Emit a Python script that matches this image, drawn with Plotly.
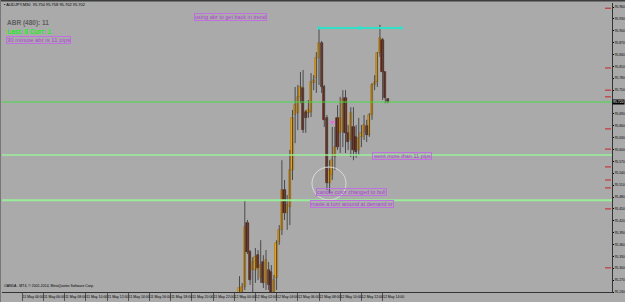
import plotly.graph_objects as go

# ---------------- data ----------------
opens  = [95.232, 95.237, 95.253, 95.414, 95.341, 95.296, 95.296, 95.333, 95.275, 95.316,
          95.263, 95.296, 95.291, 95.227, 95.275, 95.366, 95.397, 95.498, 95.440, 95.455,
          95.548, 95.687, 95.692, 95.733, 95.755, 95.695, 95.692, 95.695, 95.768, 95.781,
          95.831, 95.869, 95.758, 95.680, 95.515, 95.536, 95.581, 95.680, 95.642, 95.644,
          95.730, 95.642, 95.624, 95.657, 95.632, 95.599, 95.632, 95.644, 95.659, 95.637,
          95.687, 95.763, 95.771, 95.844, 95.877, 95.796, 95.728]
highs  = [95.280, 95.263, 95.472, 95.422, 95.346, 95.328, 95.351, 95.346, 95.371, 95.333,
          95.346, 95.316, 95.308, 95.283, 95.371, 95.409, 95.573, 95.523, 95.485, 95.599,
          95.700, 95.758, 95.763, 95.796, 95.801, 95.700, 95.725, 95.793, 95.788, 95.846,
          95.907, 95.874, 95.763, 95.687, 95.573, 95.657, 95.657, 95.712, 95.733, 95.750,
          95.750, 95.662, 95.707, 95.707, 95.662, 95.680, 95.662, 95.687, 95.675, 95.692,
          95.768, 95.788, 95.846, 95.915, 95.882, 95.796, 95.730]
lows   = [95.227, 95.227, 95.245, 95.336, 95.258, 95.227, 95.263, 95.270, 95.263, 95.250,
          95.245, 95.245, 95.227, 95.222, 95.245, 95.359, 95.384, 95.422, 95.397, 95.409,
          95.523, 95.616, 95.649, 95.717, 95.642, 95.642, 95.680, 95.682, 95.750, 95.743,
          95.763, 95.743, 95.657, 95.498, 95.490, 95.523, 95.548, 95.599, 95.591, 95.606,
          95.591, 95.599, 95.581, 95.573, 95.579, 95.586, 95.606, 95.624, 95.619, 95.632,
          95.675, 95.750, 95.758, 95.834, 95.725, 95.717, 95.717]
closes = [95.250, 95.253, 95.404, 95.341, 95.270, 95.316, 95.328, 95.301, 95.308, 95.263,
          95.321, 95.258, 95.237, 95.270, 95.364, 95.397, 95.498, 95.440, 95.460, 95.548,
          95.680, 95.712, 95.733, 95.758, 95.649, 95.680, 95.700, 95.771, 95.776, 95.831,
          95.869, 95.758, 95.675, 95.515, 95.548, 95.573, 95.606, 95.606, 95.680, 95.728,
          95.642, 95.619, 95.692, 95.599, 95.594, 95.629, 95.642, 95.662, 95.637, 95.687,
          95.763, 95.771, 95.844, 95.882, 95.796, 95.730, 95.720]
first_bar = 90  # bar index of first visible candle

time_labels = ["11 May 2014", "11 May 04:00", "11 May 06:00", "11 May 08:00", "11 May 10:00",
               "11 May 12:00", "11 May 14:00", "11 May 16:00", "11 May 18:00", "11 May 20:00",
               "11 May 22:00", "12 May 00:00", "12 May 02:00", "12 May 04:00", "12 May 06:00",
               "12 May 08:00", "12 May 10:00", "12 May 12:00", "12 May 14:00"]
bars_per_label = 8

price_ticks = [95.960, 95.930, 95.900, 95.870, 95.840, 95.810, 95.780, 95.750, 95.720,
               95.690, 95.660, 95.630, 95.600, 95.570, 95.540, 95.510, 95.480, 95.450,
               95.420, 95.390, 95.360, 95.330, 95.300, 95.270, 95.240]

sr_levels = [95.586, 95.472]
trend_bars = [120, 151]
trend_prices = [95.907, 95.907]
arrow_bar = [125]
arrow_price = [95.669]
red_marks = [95.957, 95.806, 95.750, 95.733, 95.652, 95.601, 95.556, 95.523, 95.503, 95.450, 95.301]

title_text = "AUDJPY,M30  95.750 95.758 95.702 95.702"
copyright_text = "OANDA - MT4, © 2001-2014, MetaQuotes Software Corp."

# ---------------- figure ----------------
W, H = 625, 302
ML, MR, MT, MB = 2, 13, 3, 10
PW, PH = W - ML - MR, H - MT - MB
BG = "#aaaaaa"

def xp(px):
    return (px - ML) / PW

def yp(py):
    return (H - MB - py) / PH

bars = [first_bar + i for i in range(len(opens))]
wx, wy = [], []
for b, h, l in zip(bars, highs, lows):
    wx += [b, b, None]
    wy += [h, l, None]

fig = go.Figure()
fig.add_trace(go.Scatter(x=wx, y=wy, mode="lines", line=dict(color="#4a4a4a", width=1),
                         hoverinfo="skip", showlegend=False))

bull = [i for i in range(len(opens)) if closes[i] >= opens[i]]
bear = [i for i in range(len(opens)) if closes[i] < opens[i]]
fig.add_trace(go.Bar(x=[bars[i] for i in bull], y=[max(closes[i] - opens[i], 0.004) for i in bull],
                     base=[opens[i] for i in bull], width=0.85,
                     marker=dict(color="#f0a810", line=dict(color="#a86a08", width=0.6)),
                     showlegend=False))
fig.add_trace(go.Bar(x=[bars[i] for i in bear], y=[max(opens[i] - closes[i], 0.004) for i in bear],
                     base=[closes[i] for i in bear], width=0.85,
                     marker=dict(color="#6e2410", line=dict(color="#4a1808", width=0.6)),
                     showlegend=False))

# trend line (cyan) with handles
fig.add_trace(go.Scatter(x=trend_bars, y=trend_prices, mode="lines", line=dict(color="#30e0c8", width=2),
                         showlegend=False))
fig.add_trace(go.Scatter(x=[trend_bars[0], (trend_bars[0] + trend_bars[1]) / 2, trend_bars[1]],
                         y=[trend_prices[0], trend_prices[0], trend_prices[1]], mode="markers",
                         marker=dict(symbol="square", size=3, color="#30e0c8"), showlegend=False))
fig.add_trace(go.Scatter(x=arrow_bar, y=arrow_price, mode="markers",
                         marker=dict(symbol="triangle-down", size=5, color="#e070e0"), showlegend=False))

shapes = []
# bid line + SR lines
shapes.append(dict(type="line", xref="paper", yref="y", x0=0, x1=1, y0=closes[-1], y1=closes[-1],
                   line=dict(color="#44dd44", width=1)))
shapes.append(dict(type="line", xref="paper", yref="y", x0=0, x1=1, y0=sr_levels[0], y1=sr_levels[0],
                   line=dict(color="#99ee99", width=1.5)))
shapes.append(dict(type="line", xref="paper", yref="y", x0=0, x1=1, y0=sr_levels[1], y1=sr_levels[1],
                   line=dict(color="#99ee99", width=2)))
for r in red_marks:
    shapes.append(dict(type="line", xref="paper", yref="y", x0=xp(605), x1=xp(611), y0=r, y1=r,
                       line=dict(color="#cc2222", width=1)))
# circle
shapes.append(dict(type="circle", xref="paper", yref="paper", x0=xp(312), x1=xp(346),
                   y0=yp(200), y1=yp(167), line=dict(color="#dcdcdc", width=1)))
# window frame
shapes.append(dict(type="line", xref="paper", yref="paper", x0=xp(0), x1=xp(W), y0=yp(0.5), y1=yp(0.5),
                   line=dict(color="#3c3c3c", width=2)))
shapes.append(dict(type="line", xref="paper", yref="paper", x0=xp(0.5), x1=xp(0.5), y0=yp(H), y1=yp(0),
                   line=dict(color="#777777", width=1)))

ann = []
FONT = "Liberation Sans"
PURPLE = "#b23cdc"

def text(px, py, s, size, color, bold=False, box=None, xanchor="left"):
    t = f"<b>{s}</b>" if bold else s
    d = dict(xref="paper", yref="paper", x=xp(px), y=yp(py), text=t, showarrow=False,
             xanchor=xanchor, yanchor="middle", font=dict(family=FONT, size=size, color=color))
    if box:
        d.update(bordercolor=box, borderwidth=1, borderpad=0)
    ann.append(d)

text(2, 5, "▪ " + title_text, 4, "#000000")
text(5, 23, "ABR (480): 11", 6.5, "#5e5e5e", bold=True)
text(5, 31, "Last: 8 Curr: 1", 6.5, "#22ee22", bold=True)
text(6, 39.5, "30 minute abr is 11 pips", 6, PURPLE, box="#c070e0")
text(194, 17, "using abr to get back in trend", 5.5, PURPLE, box="#c070e0")
text(372, 155.5, "went more than 11 pips", 5.5, PURPLE, box="#c070e0")
text(316, 192, "candle color changed to bull", 5.5, PURPLE, box="#c070e0")
text(310, 204, "made a turn around at demand sr", 5.5, PURPLE, box="#c070e0")
text(2, 286, copyright_text, 3.5, "#000000")
# current price box (replaces that tick label, as in MT4)
ann.append(dict(xref="paper", yref="y", x=1.0, y=closes[-1], xanchor="left", yanchor="middle",
                text=f"{closes[-1]:.3f}", showarrow=False, bgcolor="#000000", borderpad=0,
                font=dict(family=FONT, size=3.5, color="#ffffff")))

px_per_bar = 2.65
x0_bar = (ML - 1) / px_per_bar
x1_bar = (ML + PW - 1) / px_per_bar

fig.update_layout(
    width=W, height=H, margin=dict(l=ML, r=MR, t=MT, b=MB, autoexpand=False),
    paper_bgcolor=BG, plot_bgcolor=BG, barmode="overlay", bargap=0,
    showlegend=False, shapes=shapes, annotations=ann,
    xaxis=dict(range=[x0_bar, x1_bar], showgrid=False, zeroline=False, automargin=False,
               tickvals=[k * bars_per_label for k in range(len(time_labels))], ticktext=time_labels,
               tickangle=0, ticks="outside", ticklen=8, tickwidth=1, tickcolor="#555555",
               tickfont=dict(family=FONT, size=3.5, color="#000000"), ticklabelshift=11,
               ticklabelstandoff=-7,
               showline=True, linecolor="#333333", linewidth=1),
    yaxis=dict(range=[95.24, 95.24 + PH * 0.03 / 11.875], side="right", showgrid=False, zeroline=False,
               automargin=False,
               tickvals=price_ticks,
               ticktext=["" if abs(v - closes[-1]) < 0.005 else f"{v:.3f}" for v in price_ticks],
               ticks="outside", ticklen=1, tickcolor="#000000", ticklabelstandoff=0,
               tickfont=dict(family=FONT, size=3.3, color="#000000"),
               showline=True, linecolor="#333333", linewidth=1),
)

fig.write_html("out.html")
